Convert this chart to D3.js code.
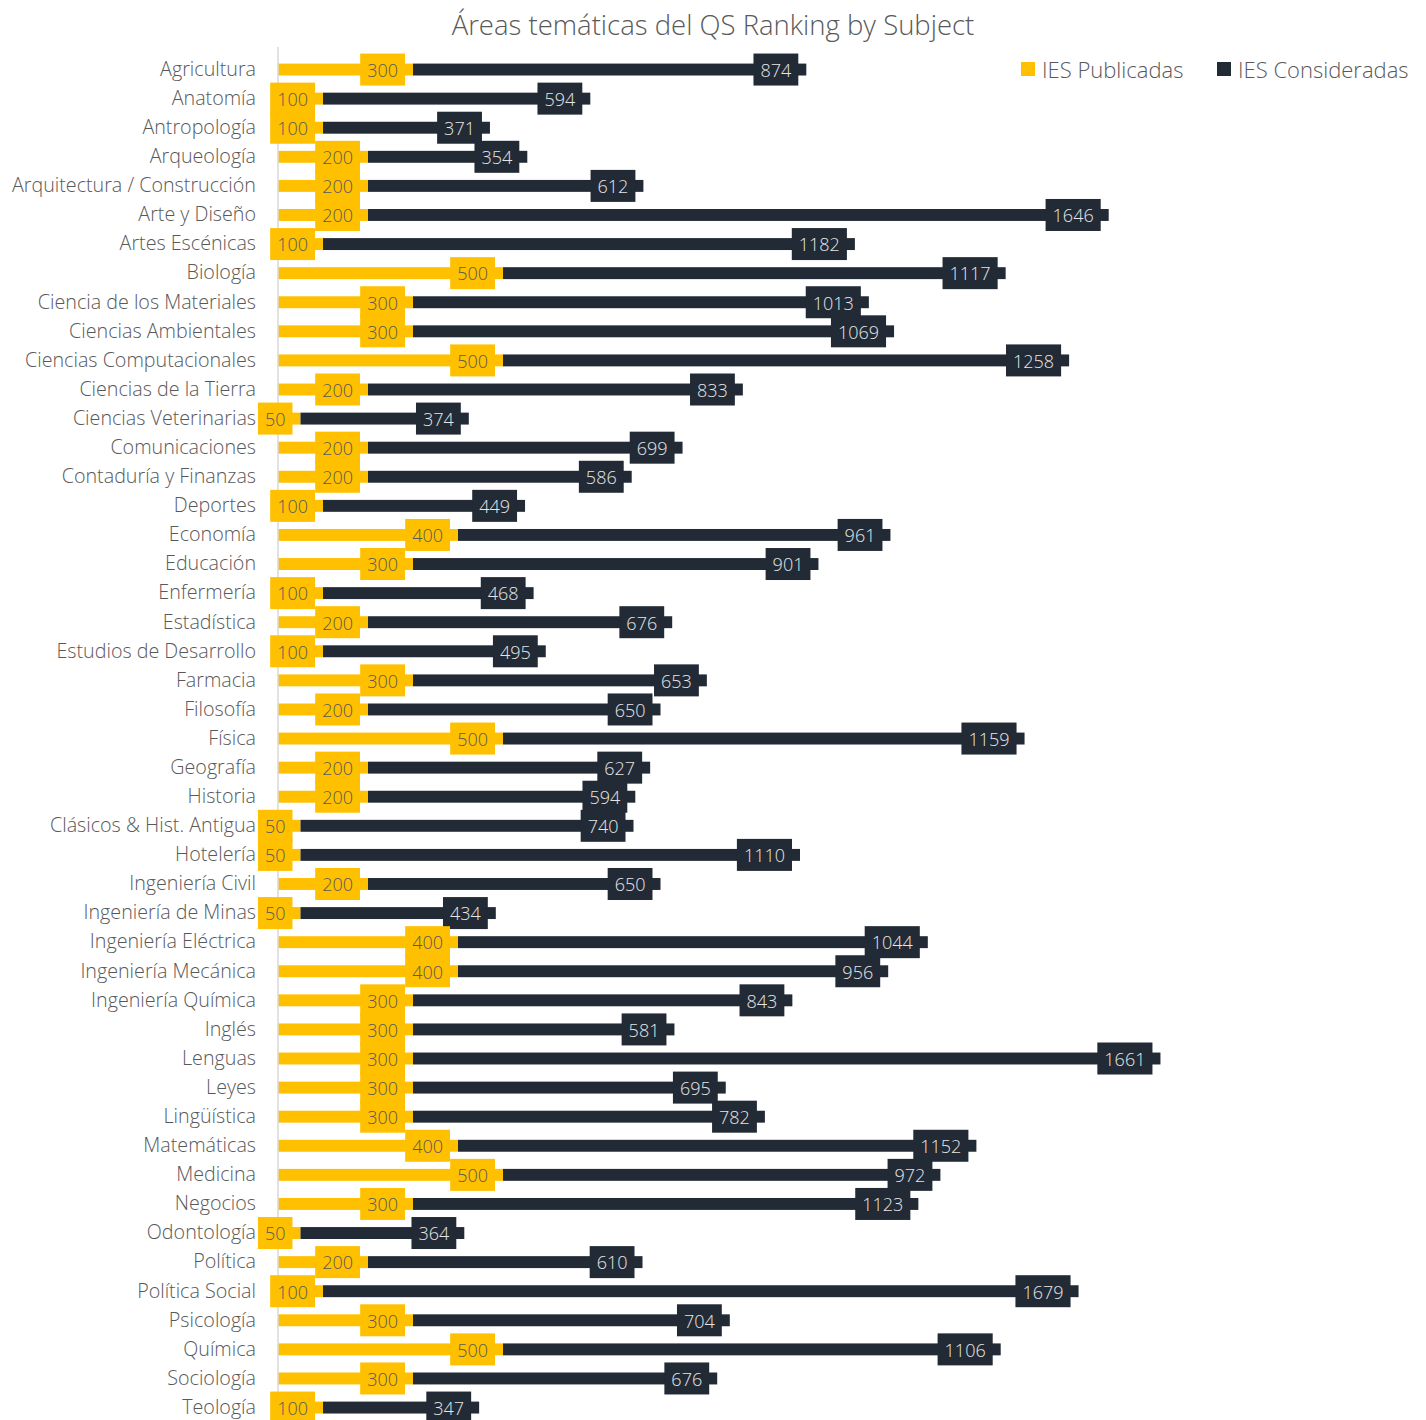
<!DOCTYPE html>
<html><head><meta charset="utf-8">
<script src="https://cdn.jsdelivr.net/npm/d3@7"></script>
<style>
html,body{margin:0;padding:0;background:#fff;}
svg text{font-family:"Open Sans",sans-serif;font-weight:300;}
</style></head>
<body>
<svg id="chart" width="1426" height="1420"></svg>
<script>
const categories = ["Agricultura","Anatomía","Antropología","Arqueología","Arquitectura / Construcción","Arte y Diseño","Artes Escénicas","Biología","Ciencia de los Materiales","Ciencias Ambientales","Ciencias Computacionales","Ciencias de la Tierra","Ciencias Veterinarias","Comunicaciones","Contaduría y Finanzas","Deportes","Economía","Educación","Enfermería","Estadística","Estudios de Desarrollo","Farmacia","Filosofía","Física","Geografía","Historia","Clásicos & Hist. Antigua","Hotelería","Ingeniería Civil","Ingeniería de Minas","Ingeniería Eléctrica","Ingeniería Mecánica","Ingeniería Química","Inglés","Lenguas","Leyes","Lingüística","Matemáticas","Medicina","Negocios","Odontología","Política","Política Social","Psicología","Química","Sociología","Teología"];
const publicadas = [300,100,100,200,200,200,100,500,300,300,500,200,50,200,200,100,400,300,100,200,100,300,200,500,200,200,50,50,200,50,400,400,300,300,300,300,300,400,500,300,50,200,100,300,500,300,100];
const consideradas = [874,594,371,354,612,1646,1182,1117,1013,1069,1258,833,374,699,586,449,961,901,468,676,495,653,650,1159,627,594,740,1110,650,434,1044,956,843,581,1661,695,782,1152,972,1123,364,610,1679,704,1106,676,347];
const seriesNames = ["IES Publicadas","IES Consideradas"];
const colors = ["#FFC000","#222A35"];
const title = "Áreas temáticas del QS Ranking by Subject";

const svg = d3.select("#chart");
const x = d3.scaleLinear().domain([0,2500]).range([278,1403]);
const y = d3.scaleBand().domain(categories).range([55,1422.1]).paddingInner(0.59).paddingOuter(0.295);

const rows = categories.map((c,i)=>({c, p:publicadas[i], k:consideradas[i]}));

// title
svg.append("text").attr("x",713).attr("y",35).attr("text-anchor","middle")
  .attr("font-size",27.5).attr("fill","#595959").text(title);

// bars
const g = svg.append("g");
g.selectAll("rect.pub").data(rows).join("rect").attr("class","pub")
  .attr("x",x(0)).attr("y",d=>y(d.c)).attr("height",y.bandwidth())
  .attr("width",d=>x(d.p)-x(0)).attr("fill",colors[0]);
g.selectAll("rect.con").data(rows).join("rect").attr("class","con")
  .attr("x",d=>x(d.p)).attr("y",d=>y(d.c)).attr("height",y.bandwidth())
  .attr("width",d=>x(d.p+d.k)-x(d.p)).attr("fill",colors[1]);

// axis
const ax = svg.append("g").attr("transform",`translate(${x(0)},0)`)
  .call(d3.axisLeft(y).tickSize(0).tickPadding(22));
ax.select(".domain").attr("stroke","#d9d9d9").attr("stroke-width",1.5)
  .attr("d",`M0,47V1420`);
ax.selectAll(".tick text").attr("font-size",19.7).attr("fill","#595959")
  .style("font-family","'Open Sans',sans-serif").style("font-weight",300);

// labels
const pad = 7, boxH = 32;
function addLabel(layer, end, cy, txt, bg, fg){
  const lg = layer.append("g");
  const r = lg.append("rect");
  const t = lg.append("text").attr("font-size",18).attr("fill",fg)
    .attr("text-anchor","end").attr("x",end-8-pad).attr("y",cy+1).attr("dy","0.35em").text(txt);
  const w = t.node().getComputedTextLength();
  r.attr("x",end-8-2*pad-w).attr("y",cy-boxH/2).attr("width",w+2*pad).attr("height",boxH).attr("fill",bg);
}
const lab = svg.append("g");
rows.forEach(d=>{
  const cy = y(d.c)+y.bandwidth()/2;
  addLabel(lab, x(d.p), cy, d.p, colors[0], "#595959");
  addLabel(lab, x(d.p+d.k), cy, d.k, colors[1], "#e6e6e6");
});

// legend
const leg = svg.append("g");
const legX = [1021,1217];
seriesNames.forEach((n,i)=>{
  leg.append("rect").attr("x",legX[i]).attr("y",62).attr("width",14).attr("height",14).attr("fill",colors[i]);
  leg.append("text").attr("x",legX[i]+21).attr("y",70).attr("dy","0.35em")
    .attr("font-size",22).attr("fill","#595959").text(n);
});
</script>
</body></html>
